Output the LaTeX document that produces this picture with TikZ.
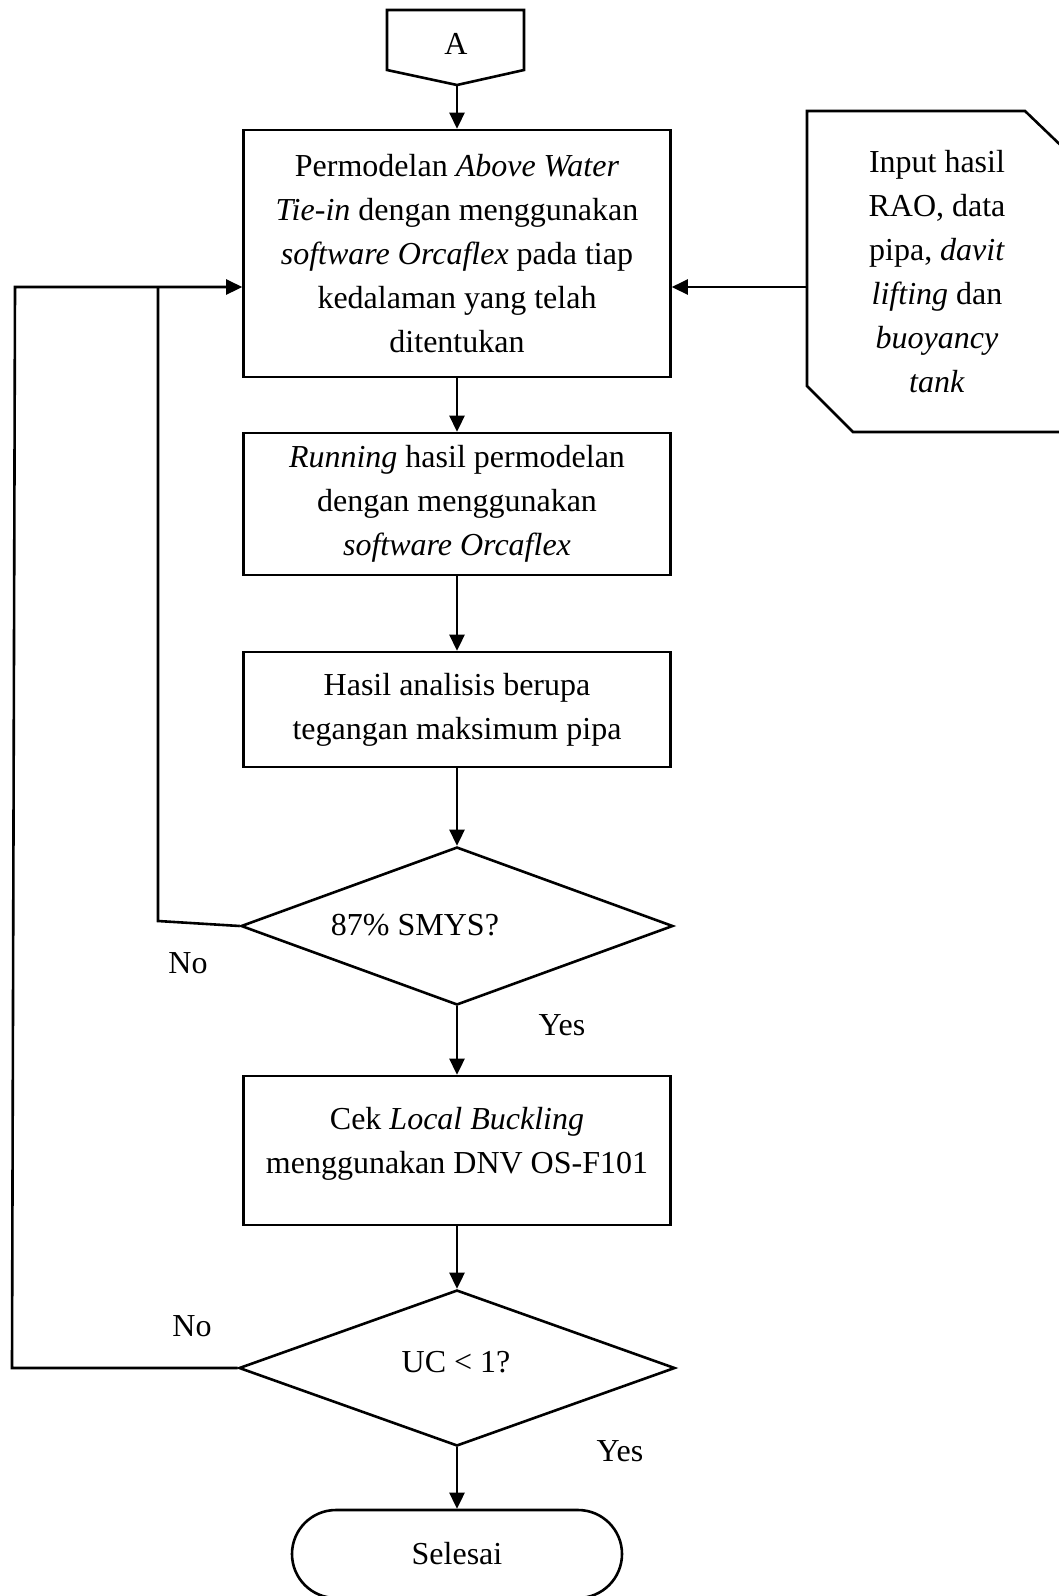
\documentclass[tikz,border=0pt]{standalone}
\usepackage{fontspec}
\setmainfont{Liberation Serif}
\usetikzlibrary{shapes.geometric,shapes.misc,arrows.meta}
\newcommand\figfont{\fontsize{32}{44}\selectfont}
\begin{document}
\begin{tikzpicture}[x=1pt,y=-1pt,line width=2.6pt,
  every node/.style={font=\figfont},
  box/.style={draw,rectangle,minimum width=427pt,align=center,inner sep=0pt},
  dec/.style={draw,diamond,inner sep=0pt},
  txt/.style={inner sep=0pt,align=center},
  arr/.style={-{Triangle[length=16pt,width=15pt]}}]
\clip (0,0) rectangle (1059,1596);
\fill[white] (0,0) rectangle (1059,1596);
% connector A
\draw (387,10) -- (524,10) -- (524,70) -- (457,85) -- (387,70) -- cycle;
\node[txt] (conA) at (456,44) {A};
\coordinate (conAtip) at (457,85);
% boxes
\node[box,minimum height=247pt] (b1) at (457,253.5)
  {Permodelan \textit{Above Water}\\ \textit{Tie-in} dengan menggunakan\\ \textit{software Orcaflex} pada tiap\\ kedalaman yang telah\\ ditentukan};
\node[box,minimum height=142pt] (b2) at (457,504)
  {\textit{Running} hasil permodelan\\ dengan menggunakan\\ \textit{software Orcaflex}};
\node[box,minimum height=115pt] (b3) at (457,709.5)
  {Hasil analisis berupa\\ tegangan maksimum pipa};
\node[dec,minimum width=432pt,minimum height=158pt] (d1) at (457,926) {};
\node[txt] (t1) at (415,925) {87\% SMYS?};
\node[box,minimum height=149pt,text depth=20pt] (b4) at (457,1150.5)
  {Cek \textit{Local Buckling}\\ menggunakan DNV OS-F101};
\node[dec,minimum width=436pt,minimum height=156pt] (d2) at (457,1368) {};
\node[txt] (t2) at (456,1362) {UC < 1?};
\node[draw,rounded rectangle,minimum width=330pt,minimum height=88pt,inner sep=0pt] (end) at (457,1554) {Selesai};
% input document shape
\draw (1075,159) -- (1025,111) -- (807,111) -- (807,386) -- (853,432) -- (1075,432);
\node[txt] (inp) at (937,272) {Input hasil\\ RAO, data\\ pipa, \textit{davit}\\ \textit{lifting} dan\\ \textit{buoyancy}\\ \textit{tank}};
\coordinate (inL) at (807,287);
% labels
\node[txt] (no1) at (188,963) {No};
\node[txt] (yes1) at (562,1025) {Yes};
\node[txt] (no2) at (192,1326) {No};
\node[txt] (yes2) at (620,1451) {Yes};
% main flow
\draw[arr] (conAtip) -- (conAtip |- b1.north);
\draw[arr] (b1.south) -- (b2.north);
\draw[arr] (b2.south) -- (b3.north);
\draw[arr] (b3.south) -- (d1.north);
\draw[arr] (d1.south) -- (b4.north);
\draw[arr] (b4.south) -- (d2.north);
\draw[arr] (d2.south) -- (end.north);
% input arrow
\draw[arr] (inL) -- (b1.east |- inL);
% feedback loops
\coordinate (j) at (158,287);
\draw (d1.west) -- (158,921) -- (j);
\draw[arr] (d2.west) -- (12,1368) -- (15,287) -- (j) -- (b1.west |- j);
\end{tikzpicture}
\end{document}
